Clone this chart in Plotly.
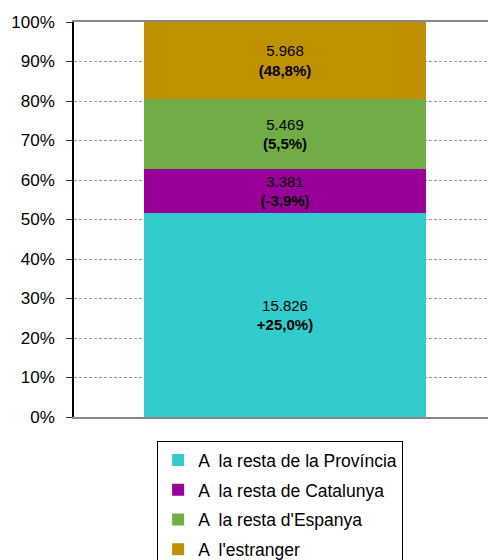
import plotly.graph_objects as go

categories = [""]
series_names = ["A  la resta de la Província", "A  la resta de Catalunya",
                "A  la resta d'Espanya", "A  l'estranger"]
values = [15826, 3381, 5469, 5968]
changes = ["+25,0%)", "(-3,9%)", "(5,5%)", "(48,8%)"]
colors = ["#33CCCC", "#990099", "#70AD47", "#BF9000"]
tick_vals = [0, 10, 20, 30, 40, 50, 60, 70, 80, 90, 100]
tick_text = [f"{t}%" for t in tick_vals]

FONT = "Arial, Liberation Sans, sans-serif"

fig = go.Figure()
for i, (name, v, ch, c) in enumerate(zip(series_names, values, changes, colors)):
    label = f"{v:,}".replace(",", ".")
    fig.add_trace(go.Bar(
        x=categories, y=[v], name=name, marker=dict(color=c, line=dict(width=0)),
        text=[f"{label}<br><b>{ch}</b>"], textposition="inside",
        insidetextanchor="middle", textangle=0,
        textfont=dict(family=FONT, size=15, color="black"),
        legendgroup=f"g{i}", hoverinfo="skip",
    ))

fig.update_layout(
    width=488, height=552,
    barmode="stack", barnorm="percent", bargap=0.33,
    uniformtext=dict(minsize=15, mode="show"),
    margin=dict(l=66, r=0, t=14, b=143, autoexpand=False),
    plot_bgcolor="white", paper_bgcolor="white",
    font=dict(family=FONT, size=16, color="black"),
    showlegend=True,
    legend=dict(
        x=0.197, y=-0.061, xanchor="left", yanchor="top",
        traceorder="grouped", tracegroupgap=4,
        bordercolor="black", borderwidth=1, bgcolor="white",
        font=dict(family=FONT, size=17.5, color="black"),
        itemsizing="constant",
    ),
)
fig.update_xaxes(showline=True, linecolor="#888888", linewidth=2, mirror=True,
                 showticklabels=False, ticks="", showgrid=False, automargin=False)
fig.update_yaxes(range=[0, 100], tickvals=tick_vals, ticktext=tick_text,
                 showline=True, linecolor="black", linewidth=1.5,
                 ticks="outside", ticklen=6, tickcolor="#333333",
                 ticklabelstandoff=8,
                 showgrid=True, gridcolor="#999999", griddash="3px,2px", gridwidth=1,
                 tickfont=dict(family=FONT, size=17, color="black"),
                 zeroline=False, automargin=False)

fig.write_html("out.html")
